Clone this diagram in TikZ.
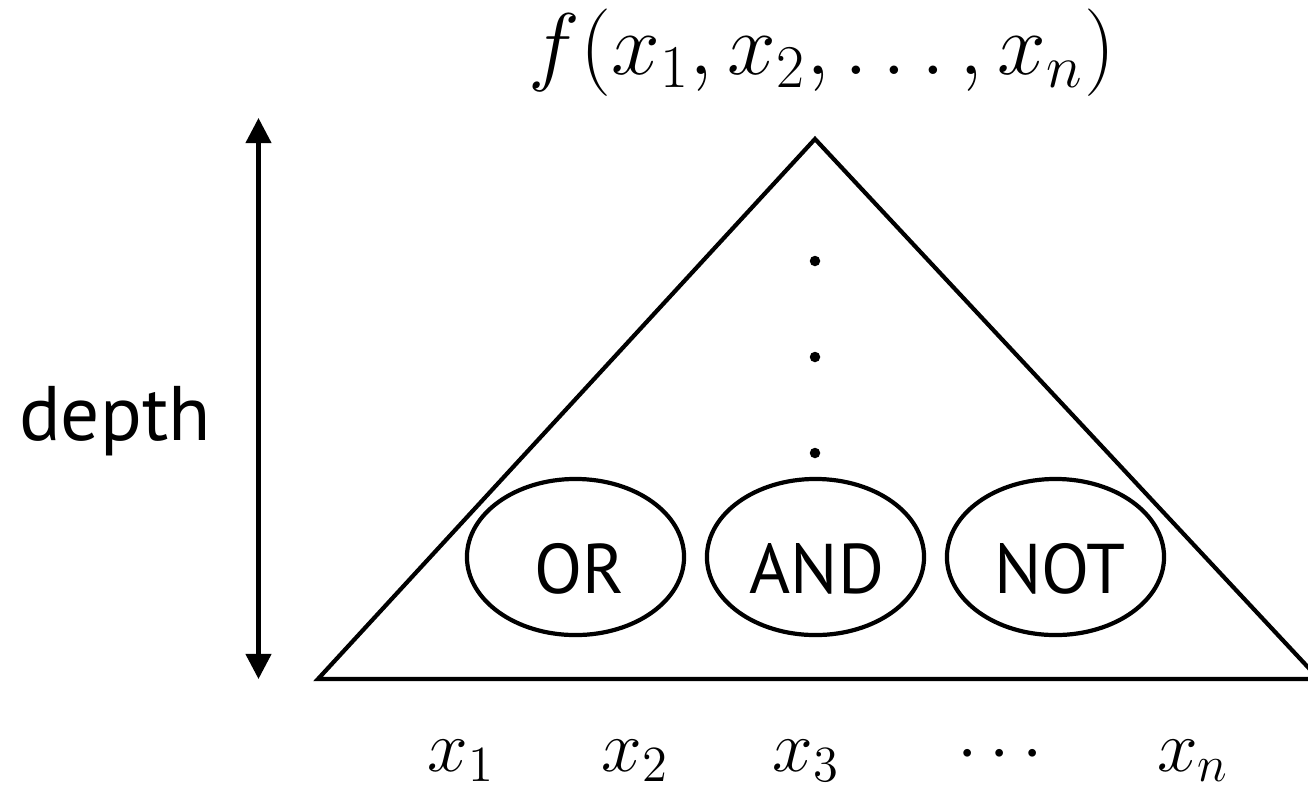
\documentclass[tikz,border=0pt]{standalone}
\usepackage[no-math]{fontspec}
\setmainfont{PT Sans}
\usetikzlibrary{arrows.meta,shapes.geometric}
\begin{document}
\begin{tikzpicture}[x=0.01cm,y=-0.01cm,
  thick line/.style={line width=0.042cm},
  gate/.style={draw,ellipse,line width=0.042cm,minimum width=2.17cm,minimum height=1.56cm,inner sep=0pt},
  gatetext/.style={anchor=base,inner sep=0pt,font=\fontsize{20}{24}\selectfont},
  var/.style={anchor=base,inner sep=0pt,font=\fontsize{22}{26}\selectfont},
  dotnode/.style={circle,fill=black,inner sep=0pt,minimum size=0.105cm}]
\useasboundingbox (0,0) rectangle (1308,787);
\clip (0,0) rectangle (1308,787);
% triangle
\coordinate (apex) at (815,139);
\coordinate (bl) at (318,679);
\coordinate (br) at (1319,679);
\draw[thick line,line join=miter] (apex) -- (bl) -- (br) -- cycle;
% title
\node[anchor=base,inner sep=0pt,font=\fontsize{24}{28}\selectfont] (title) at (822,74) {$f(x_1,x_2,\ldots,x_n)$};
% depth arrow
\coordinate (dtop) at (258.5,118);
\coordinate (dbot) at (258.5,679);
\draw[thick line,{Triangle[length=0.25cm,width=0.25cm]}-{Triangle[length=0.25cm,width=0.25cm]}] (dtop) -- (dbot);
\node[anchor=base,inner sep=0pt,font=\fontsize{22}{26}\selectfont] (depth) at (115,440) {depth};
% vertical dots
\node[dotnode] (d1) at (815,261) {};
\node[dotnode] (d2) at (815,357) {};
\node[dotnode] (d3) at (815,453) {};
% gates
\node[gate] (or) at (575.5,557) {};
\node[gate] (and) at (815.5,557) {};
\node[gate] (not) at (1055.5,557) {};
\node[gatetext] (ortext) at (579,593) {OR};
\node[gatetext] (andtext) at (817,593) {AND};
\node[gatetext] (nottext) at (1060,593) {NOT};
% inputs
\node[var] (x1) at (461,771) {$x_1$};
\node[var] (x2) at (635,771) {$x_2$};
\node[var] (x3) at (806,771) {$x_3$};
\node[var] (xd) at (1000,771) {$\cdots$};
\node[var] (xn) at (1193,771) {$x_n$};
\end{tikzpicture}
\end{document}
